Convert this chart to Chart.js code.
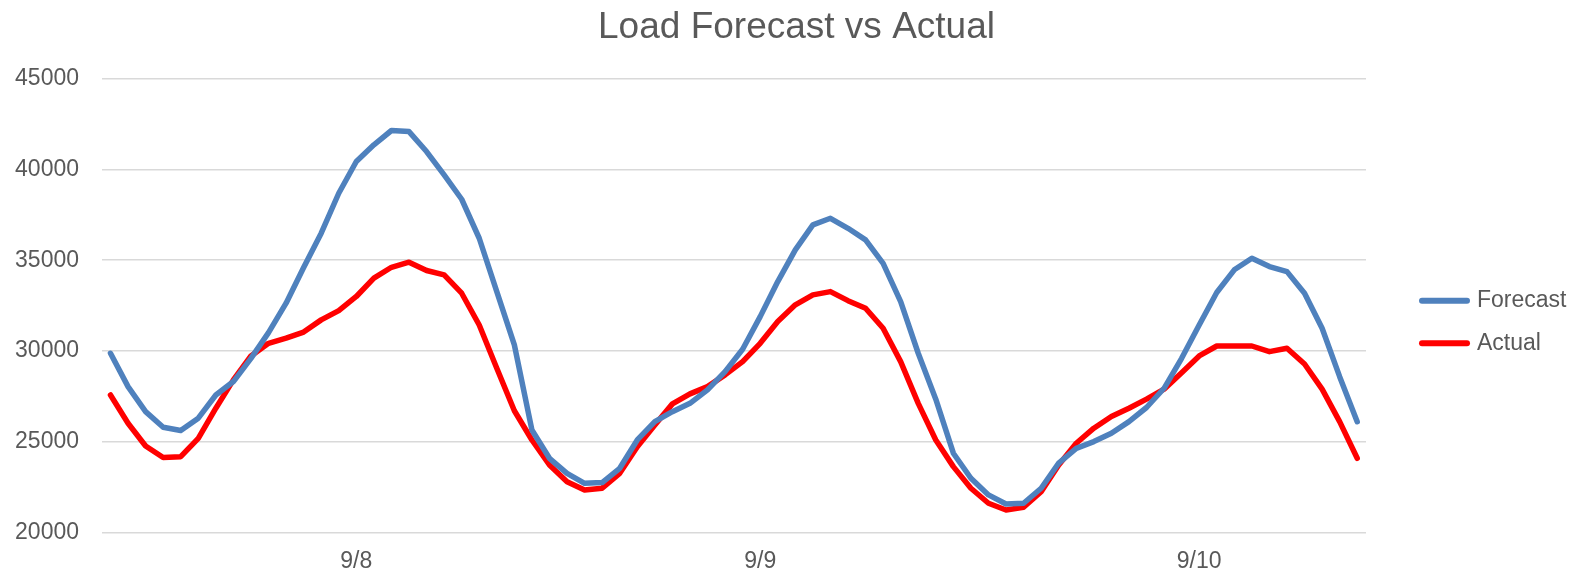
<!DOCTYPE html>
<html>
<head>
<meta charset="utf-8">
<script src="https://cdn.jsdelivr.net/npm/chart.js@4.4.1/dist/chart.umd.min.js"></script>
<style>
  html, body { margin: 0; padding: 0; background: #fff; }
  #wrap { width: 1584px; height: 572px; }
</style>
</head>
<body>
<div id="wrap"><canvas id="loadChart" width="1584" height="572"></canvas></div>
<script>
// hourly values, 3 days (72 points)
const forecast = [
  29870, 28030, 26650, 25790, 25610, 26290, 27570, 28310, 29590, 31010,
  32630, 34600, 36490, 38690, 40440, 41360, 42150, 42090, 40990, 39700,
  38360, 36210, 33270, 30330, 25640, 24080, 23250, 22700, 22740, 23530,
  25090, 26100, 26650, 27110, 27850, 28860, 30090, 31890, 33820, 35570,
  36950, 37310, 36760, 36120, 34830, 32720, 29870, 27340, 24360, 22980,
  22060, 21560, 21600, 22430, 23810, 24630, 25000, 25460, 26100, 26880,
  27940, 29590, 31430, 33220, 34470, 35110, 34650, 34370, 33180, 31250,
  28580, 26100,
];
const actual = [
  27570, 26010, 24760, 24120, 24170, 25180, 26840, 28400, 29720, 30420,
  30700, 31040, 31710, 32220, 33000, 34010, 34610, 34890, 34430, 34190,
  33180, 31430, 29040, 26700, 25090, 23710, 22790, 22330, 22430, 23250,
  24720, 25920, 27080, 27630, 28030, 28680, 29410, 30420, 31620, 32540,
  33090, 33270, 32770, 32350, 31250, 29410, 27110, 25090, 23620, 22430,
  21600, 21230, 21380, 22240, 23710, 24910, 25740, 26380, 26840, 27340,
  27890, 28800, 29720, 30270, 30270, 30270, 29960, 30150, 29280, 27890,
  26100, 24080,
];
const dayLabels = ['9/8', '9/9', '9/10'];
const dayLabelAt = [14, 37, 62];
const yMin = 20000, yMax = 45000, yStep = 5000;

const C = {
  blue: '#4f81bd',
  red: '#ff0000',
  text: '#595959',
  grid: '#d9d9d9',
};
const FONT = "'Liberation Sans', Arial, sans-serif";

const labels = forecast.map((_, i) => {
  const k = dayLabelAt.indexOf(i);
  return k >= 0 ? dayLabels[k] : '';
});

// legend drawn in the space kept free by the blank right axis
const sideLegend = {
  id: 'sideLegend',
  afterDraw(chart) {
    const { ctx, chartArea } = chart;
    const x0 = chartArea.right + 56;
    const y0 = chartArea.top + 222;
    ctx.save();
    ctx.font = '23px ' + FONT;
    ctx.textBaseline = 'middle';
    ctx.lineCap = 'round';
    chart.data.datasets.forEach((ds, i) => {
      const y = y0 + i * 42.5;
      ctx.strokeStyle = ds.borderColor;
      ctx.lineWidth = 6;
      ctx.beginPath();
      ctx.moveTo(x0, y);
      ctx.lineTo(x0 + 45, y);
      ctx.stroke();
      ctx.fillStyle = C.text;
      ctx.fillText(ds.label, x0 + 55, y);
    });
    ctx.restore();
  },
};

new Chart(document.getElementById('loadChart'), {
  type: 'line',
  data: {
    labels,
    datasets: [
      {
        label: 'Forecast',
        data: forecast,
        borderColor: C.blue,
        borderWidth: 5.5,
        pointRadius: 0,
        tension: 0,
        borderCapStyle: 'round',
        borderJoinStyle: 'round',
      },
      {
        label: 'Actual',
        data: actual,
        borderColor: C.red,
        borderWidth: 5.5,
        pointRadius: 0,
        tension: 0,
        borderCapStyle: 'round',
        borderJoinStyle: 'round',
      },
    ],
  },
  options: {
    responsive: false,
    animation: false,
    layout: { padding: { left: 9 } },
    plugins: {
      legend: { display: false },
      tooltip: { enabled: false },
      title: {
        display: true,
        text: 'Load Forecast vs Actual',
        color: C.text,
        font: { family: FONT, size: 37, weight: 'normal' },
        padding: { top: 6, bottom: 28.4 },
      },
    },
    scales: {
      x: {
        offset: true,
        grid: { display: false },
        border: { display: false },
        ticks: {
          autoSkip: false,
          maxRotation: 0,
          color: C.text,
          font: { family: FONT, size: 23 },
          padding: 8,
        },
        afterFit: s => { s.height = 39.7; },
      },
      y: {
        min: yMin,
        max: yMax,
        border: { display: false },
        grid: { color: C.grid, lineWidth: 1.5, drawTicks: false },
        ticks: {
          stepSize: yStep,
          color: C.text,
          font: { family: FONT, size: 23 },
          padding: 22.7,
          callback: v => String(v),
        },
        afterFit: s => { s.width = 92.7; },
      },
      side: {
        position: 'right',
        grid: { display: false },
        border: { display: false },
        ticks: { display: false },
        afterFit: s => { s.width = 218; },
      },
    },
  },
  plugins: [sideLegend],
});
</script>
</body>
</html>
